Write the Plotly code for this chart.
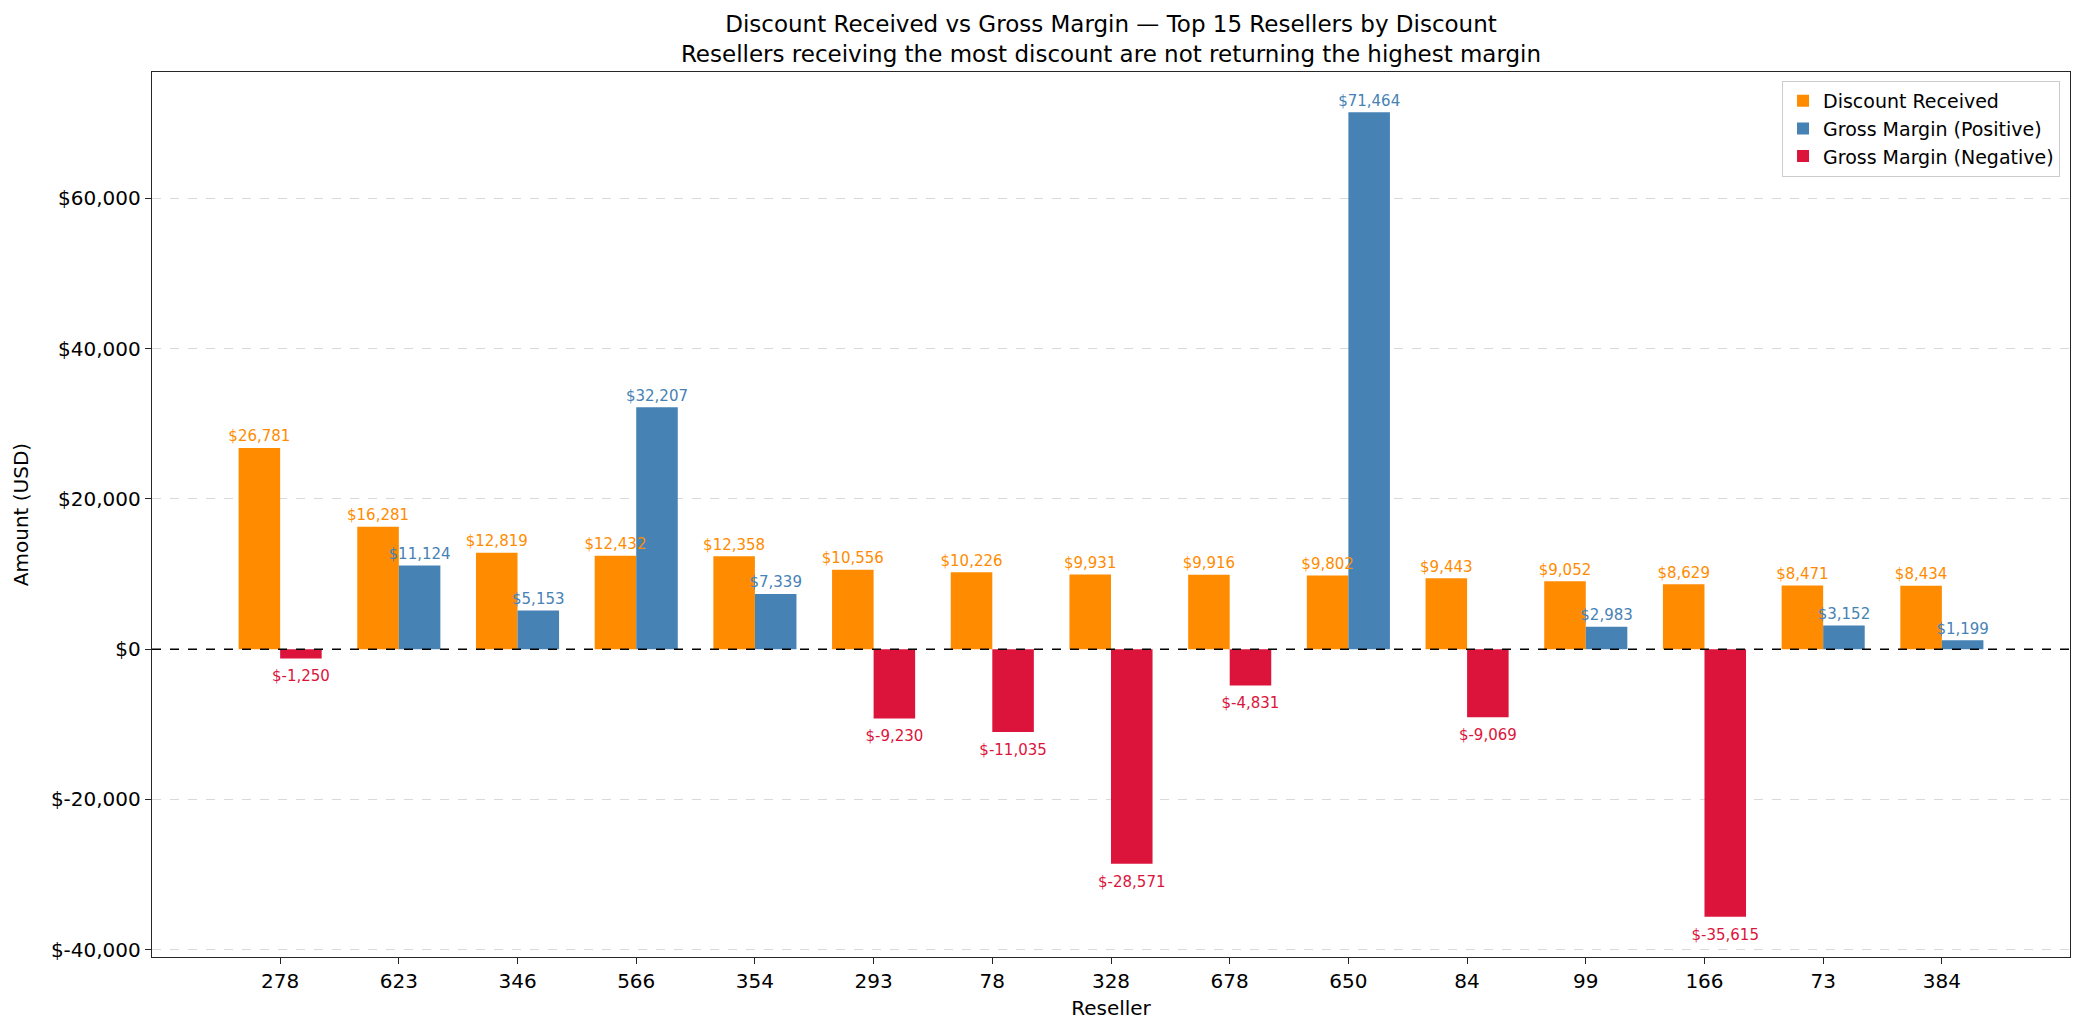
import plotly.graph_objects as go

# Top 15 resellers by discount received
resellers = ["278", "623", "346", "566", "354", "293", "78", "328", "678", "650", "84", "99", "166", "73", "384"]
discount = [26781, 16281, 12819, 12432, 12358, 10556, 10226, 9931, 9916, 9802, 9443, 9052, 8629, 8471, 8434]
margin = [-1250, 11124, 5153, 32207, 7339, -9230, -11035, -28571, -4831, 71464, -9069, 2983, -35615, 3152, 1199]

y_ticks = [-40000, -20000, 0, 20000, 40000, 60000]

ORANGE = "#FF8C00"
BLUE = "#4682B4"
RED = "#DC143C"
FONT = "DejaVu Sans"
W = 0.35


def money(v):
    # matplotlib-style "$-1,250" format
    return "$" + format(int(v), ",")


idx = list(range(len(resellers)))
x_disc = [i - W / 2 for i in idx]
x_marg = [i + W / 2 for i in idx]
pos = [m if m >= 0 else None for m in margin]
neg = [m if m < 0 else None for m in margin]

fig = go.Figure()

# bars
for xs, ys, color, name in [
    (x_disc, discount, ORANGE, "Discount Received"),
    (x_marg, pos, BLUE, "Gross Margin (Positive)"),
    (x_marg, neg, RED, "Gross Margin (Negative)"),
]:
    fig.add_trace(go.Bar(
        x=xs, y=ys, width=W, name=name,
        marker=dict(color=color, line=dict(width=0)),
    ))

# value labels drawn after the bars so nothing hides them;
# an invisible marker gives the small gap between bar end and text
for xs, ys, color, where, gap in [
    (x_disc, discount, ORANGE, "top center", 3),
    (x_marg, pos, BLUE, "top center", 3),
    (x_marg, neg, RED, "bottom center", 17),
]:
    fig.add_trace(go.Scatter(
        x=xs, y=ys, mode="markers+text", showlegend=False, hoverinfo="skip",
        marker=dict(size=gap, opacity=0),
        text=[money(v) if v is not None else "" for v in ys],
        textposition=where,
        textfont=dict(color=color, size=15, family=FONT),
        cliponaxis=False,
    ))

# dashed zero reference line
fig.add_shape(type="line", xref="paper", x0=0, x1=1, yref="y", y0=0, y1=0,
              line=dict(color="black", width=1.4, dash="dash"), layer="above")

axis_common = dict(
    showline=True, linecolor="#262626", linewidth=1.4, mirror=True,
    ticks="outside", ticklen=6, tickwidth=1.3, tickcolor="#262626",
    tickfont=dict(size=20, color="black", family=FONT),
    zeroline=False,
)

fig.update_layout(
    width=2084, height=1034,
    margin=dict(l=152, r=14, t=72, b=77),
    plot_bgcolor="white", paper_bgcolor="white",
    font=dict(family=FONT, color="black"),
    barmode="overlay",
    title=dict(
        text="Discount Received vs Gross Margin \u2014 Top 15 Resellers by Discount<br>"
             "Resellers receiving the most discount are not returning the highest margin",
        x=0.5, xanchor="center", xref="paper", y=1 - 32 / 1034, yanchor="top",
        font=dict(size=23, family=FONT, color="black"),
    ),
    xaxis=dict(
        range=[-1.0795, 15.0795], tickvals=idx, ticktext=resellers,
        showgrid=False,
        title=dict(text="Reseller", font=dict(size=20, family=FONT), standoff=8),
        **axis_common,
    ),
    yaxis=dict(
        range=[-40969, 76818], tickvals=y_ticks, ticktext=[money(v) for v in y_ticks],
        showgrid=True, gridcolor="#d9d9d9", gridwidth=1.3, griddash="dash",
        title=dict(text="Amount (USD)", font=dict(size=20, family=FONT), standoff=16),
        **axis_common,
    ),
    legend=dict(
        x=0.9948, xanchor="right", y=0.99, yanchor="top",
        bgcolor="rgba(255,255,255,0.8)", bordercolor="#cccccc", borderwidth=1,
        font=dict(size=19, family=FONT, color="black"),
        tracegroupgap=2,
    ),
)

fig.write_html(
    "out.html",
    config={"displayModeBar": False},
    post_script="document.body.style.margin='0';document.body.style.overflow='hidden';",
)
